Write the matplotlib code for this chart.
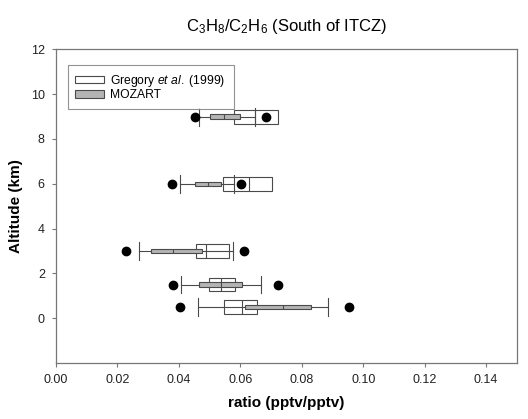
import matplotlib
matplotlib.use('Agg')
import matplotlib.pyplot as plt
from matplotlib.patches import Patch

plt.rcParams['font.family'] = ['Liberation Sans', 'DejaVu Sans']
plt.rcParams['mathtext.fontset'] = 'custom'
plt.rcParams['mathtext.rm'] = 'Liberation Sans'
plt.rcParams['mathtext.it'] = 'Liberation Sans:italic'

# altitude levels (km)
altitudes = [9.0, 6.0, 3.0, 1.5, 0.5]

# Gregory et al. (1999): box quartiles + median
greg_q1 = [0.0578, 0.0545, 0.0456, 0.0499, 0.0546]
greg_med = [0.0648, 0.0629, 0.0488, 0.0537, 0.0607]
greg_q3 = [0.0723, 0.0704, 0.0562, 0.0583, 0.0654]

# MOZART: 5th, 10th, 25th, 50th, 75th, 90th, 95th percentiles
moz_p5 = [0.0453, 0.0378, 0.0229, 0.0380, 0.0404]
moz_p10 = [0.0465, 0.0405, 0.0270, 0.0407, 0.0461]
moz_q1 = [0.0502, 0.0454, 0.0310, 0.0467, 0.0615]
moz_med = [0.0548, 0.0496, 0.0382, 0.0537, 0.0739]
moz_q3 = [0.0600, 0.0537, 0.0474, 0.0607, 0.0829]
moz_p90 = [0.0648, 0.0578, 0.0577, 0.0668, 0.0886]
moz_p95 = [0.0683, 0.0602, 0.0613, 0.0721, 0.0953]

edge = '#4a4a4a'
gray_fill = '#b4b4b4'

fig = plt.figure(figsize=(5.28, 4.19), dpi=100)
ax = fig.add_axes([0.106, 0.134, 0.873, 0.748])

greg_stats = [dict(q1=a, med=m, q3=b, whislo=a, whishi=b, fliers=[])
              for a, m, b in zip(greg_q1, greg_med, greg_q3)]
ax.bxp(greg_stats, positions=altitudes, widths=0.62, orientation='horizontal',
       patch_artist=True, showcaps=False, showfliers=False, manage_ticks=False,
       boxprops=dict(facecolor='white', edgecolor=edge, linewidth=0.8),
       medianprops=dict(color=edge, linewidth=0.8),
       whiskerprops=dict(linewidth=0))

moz_stats = [dict(q1=a, med=m, q3=b, whislo=lo, whishi=hi, fliers=[f1, f2])
             for a, m, b, lo, hi, f1, f2 in zip(moz_q1, moz_med, moz_q3, moz_p10,
                                                 moz_p90, moz_p5, moz_p95)]
b = ax.bxp(moz_stats, positions=altitudes, widths=0.2, orientation='horizontal',
           patch_artist=True, showcaps=True, showfliers=True, manage_ticks=False,
           boxprops=dict(facecolor=gray_fill, edgecolor=edge, linewidth=0.8),
           medianprops=dict(color=edge, linewidth=0.8),
           whiskerprops=dict(color=edge, linewidth=0.8),
           capprops=dict(color=edge, linewidth=0.8),
           flierprops=dict(marker='o', markerfacecolor='black',
                           markeredgecolor='black', markersize=6))
for k in b:
    for art in b[k]:
        art.set_zorder(3)
for c in b['caps']:
    y = c.get_ydata()
    mid = (y[0] + y[1]) / 2
    c.set_ydata([mid - 0.4, mid + 0.4])

ax.set_xlim(0, 0.15)
ax.set_ylim(-2, 12)
ax.set_xticks([0.00, 0.02, 0.04, 0.06, 0.08, 0.10, 0.12, 0.14])
ax.set_xticklabels(['0.00', '0.02', '0.04', '0.06', '0.08', '0.10', '0.12', '0.14'])
ax.set_yticks([0, 2, 4, 6, 8, 10, 12])
ax.tick_params(direction='out', length=3, width=0.8, color='#777777',
               labelsize=9, labelcolor='#222222', pad=5)
for s in ax.spines.values():
    s.set_color('#777777')
    s.set_linewidth(0.9)

ax.set_xlabel('ratio (pptv/pptv)', fontsize=11, fontweight='bold', labelpad=7)
ax.set_ylabel('Altitude (km)', fontsize=11, fontweight='bold', labelpad=6)
ax.set_title(r'C$_3$H$_8$/C$_2$H$_6$ (South of ITCZ)', fontsize=12, pad=13)

handles = [Patch(facecolor='white', edgecolor=edge, linewidth=0.8),
           Patch(facecolor=gray_fill, edgecolor=edge, linewidth=0.8)]
leg = ax.legend(handles, [r'Gregory $\it{et\ al.}$ (1999)', 'MOZART'],
                loc='upper left', bbox_to_anchor=(0.012, 0.97), fontsize=8.7,
                fancybox=False, handlelength=2.4, handleheight=0.6,
                labelspacing=0.05, borderpad=0.65, handletextpad=0.5)
leg.get_frame().set_edgecolor('#777777')
leg.get_frame().set_linewidth(0.8)

fig.savefig('out.png', dpi=100)
